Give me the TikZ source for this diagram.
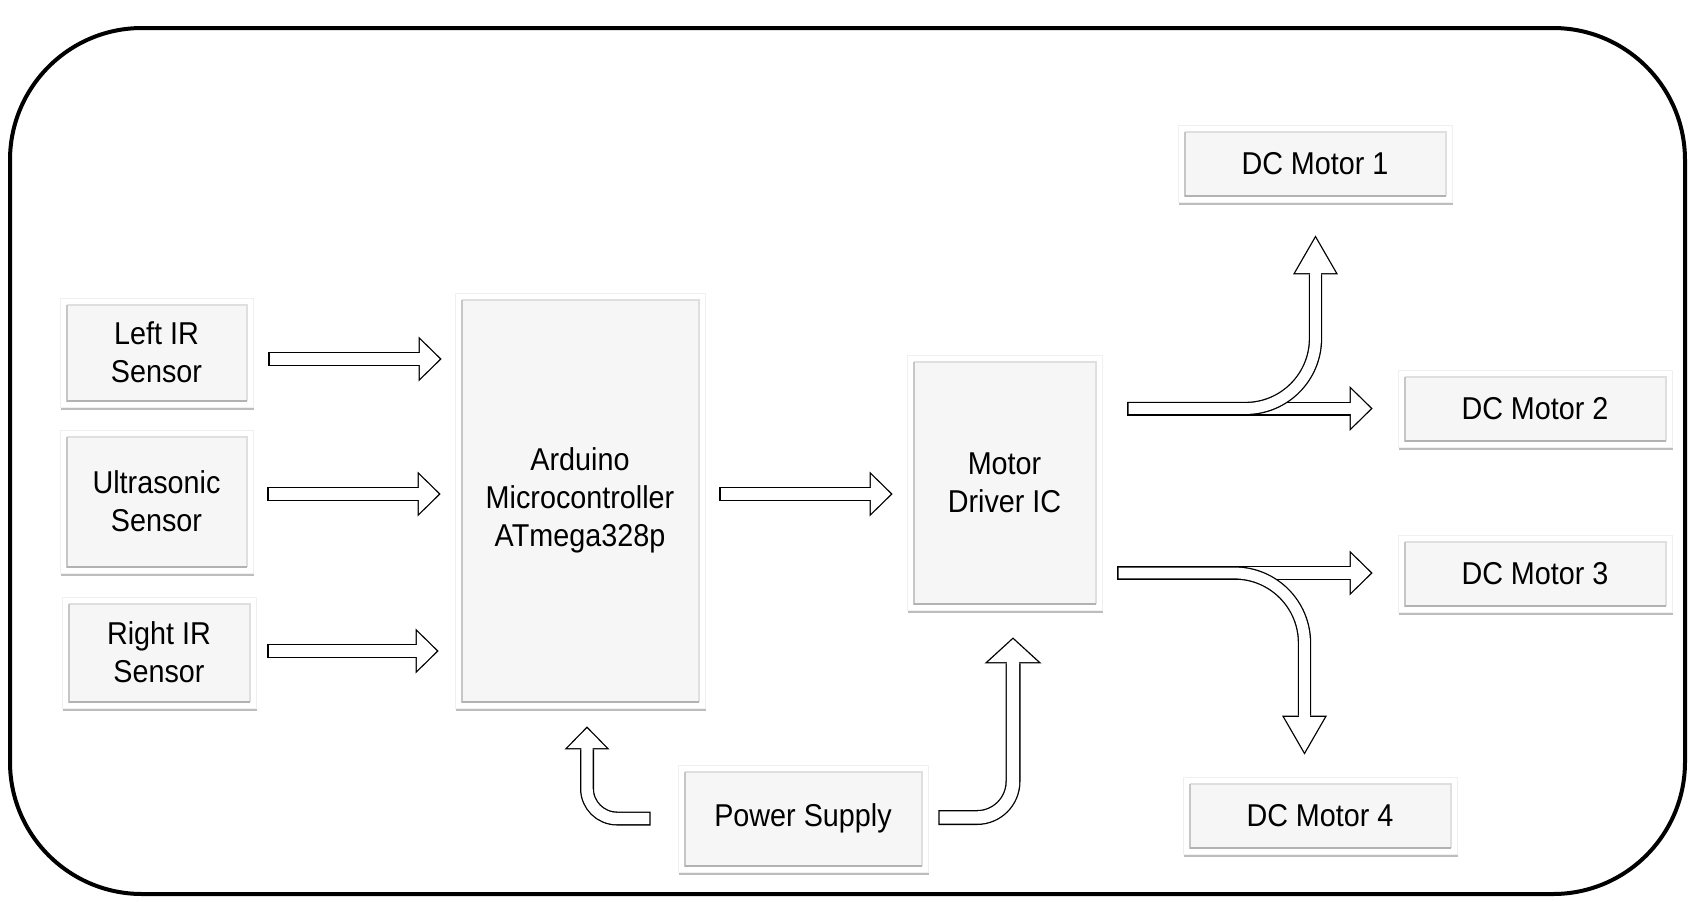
\documentclass[tikz,border=0pt]{standalone}
\usepackage{fontspec}
\newfontfamily\boxfont{Liberation Sans}[FakeStretch=0.91]
\usetikzlibrary{arrows.meta,calc,shadows}

\tikzset{
  block/.style={rectangle, fill=white, draw=gray!12, line width=0.4pt, inner sep=0pt,
    align=center, font=\boxfont\fontsize{15.8pt}{19pt}\selectfont,
    drop shadow={shadow xshift=0.5pt, shadow yshift=-1.4pt, opacity=0.26, fill=black},
    path picture={
      \coordinate (nw) at ([shift={(3.5pt,-3.5pt)}]path picture bounding box.north west);
      \coordinate (se) at ([shift={(-3pt,3pt)}]path picture bounding box.south east);
      \fill[gray!7] (nw) rectangle (se);
      \draw[gray!25, line width=0.6pt] (nw) -| (se);
      \draw[gray!45, line width=0.8pt] (nw) |- (se);
      \draw[gray!60, line width=1.4pt] (nw |- se) -- (se);
    }},
  pipe/.style={draw=white, line width=5.7pt, shorten <=0.65pt, shorten >=0.93pt,
    -{Triangle[length=9.9pt,width=19.4pt,line width=0pt]},
    preaction={draw=black, line width=7pt, shorten <=0pt, shorten >=0pt,
      -{Triangle[length=11.5pt,width=22.5pt,line width=0pt]}}},
  longpipe/.style={draw=white, line width=5.4pt, shorten <=0.65pt, shorten >=1.3pt,
    -{Triangle[length=17.5pt,width=20.2pt,line width=0pt]},
    preaction={draw=black, line width=6.7pt, shorten <=0pt, shorten >=0pt,
      -{Triangle[length=19.5pt,width=22.5pt,line width=0pt]}}},
  widepipe/.style={draw=white, line width=6.2pt, shorten <=0.65pt, shorten >=0.88pt,
    -{Triangle[length=11.5pt,width=25.1pt,line width=0pt]},
    preaction={draw=black, line width=7.5pt, shorten <=0pt, shorten >=0pt,
      -{Triangle[length=13pt,width=28.5pt,line width=0pt]}}},
}

\begin{document}
\begin{tikzpicture}[x=0.5pt,y=-0.5pt]
 \useasboundingbox (0,0) rectangle (1705,901);
 \draw[line width=2pt, rounded corners=66pt] (10,28) rectangle (1685,894);
 % sensors
 \node[block, minimum width=96.5pt, minimum height=54.5pt] (lir) at (156.5,352.5) {Left IR\\Sensor};
 \node[block, minimum width=96.5pt, minimum height=71.5pt] (ult) at (156.5,501.5) {Ultrasonic\\Sensor};
 \node[block, minimum width=97pt, minimum height=55.5pt] (rir) at (159,652.5) {Right IR\\Sensor};
 % controller and driver
 \node[block, minimum width=125pt, minimum height=207.5pt] (ard) at (580,500.5) {Arduino\\Microcontroller\\ATmega328p};
 \node[block, minimum width=97.5pt, minimum height=127.5pt] (drv) at (1004.5,482.5) {Motor\\Driver IC};
 \node[block, minimum width=125pt, minimum height=53.5pt] (ps) at (803,818.5) {Power Supply};
 % motors
 \node[block, minimum width=137pt, minimum height=38.5pt] (m1) at (1315,163.5) {DC Motor 1};
 \node[block, minimum width=137pt, minimum height=38.5pt] (m2) at (1535,408.5) {DC Motor 2};
 \node[block, minimum width=137pt, minimum height=38.5pt] (m3) at (1535,573.5) {DC Motor 3};
 \node[block, minimum width=137pt, minimum height=38.5pt] (m4) at (1320,815.5) {DC Motor 4};
 % inputs
 \draw[pipe] ($(lir.east)+(15,6.5)$) -- ($(ard.west |- lir.east)+(-13,6.5)$);
 \draw[pipe] ($(ult.east)+(14,-7.5)$) -- ($(ard.west |- ult.east)+(-14,-7.5)$);
 \draw[pipe] ($(rir.east)+(11,-1.5)$) -- ($(ard.west |- rir.east)+(-16,-1.5)$);
 \draw[pipe] ($(ard.east)+(14,-6.5)$) -- ($(drv.west)+(-14,11.5)$);
 % outputs
 \draw[pipe] ($(drv.east)+(25,-74)$) -- ($(m2.west)+(-25,0)$);
 \draw[longpipe, rounded corners=35pt] ($(drv.east)+(25,-74)$) -| ($(m1.south)+(0.5,33)$);
 \draw[pipe] ($(drv.east)+(15,90.5)$) -- ($(m3.west)+(-25,-0.5)$);
 \draw[longpipe, rounded corners=35pt] ($(drv.east)+(15,90.5)$) -| ($(m4.north)+(-15.5,-22)$);
 % supply
 \draw[pipe, rounded corners=15pt] ($(ps.west)+(-27,0)$) -| ($(ard.south)+(7,18)$);
 \draw[widepipe, rounded corners=18pt] ($(ps.east)+(10,-1)$) -| ($(drv.south)+(8.5,27)$);
\end{tikzpicture}
\end{document}
